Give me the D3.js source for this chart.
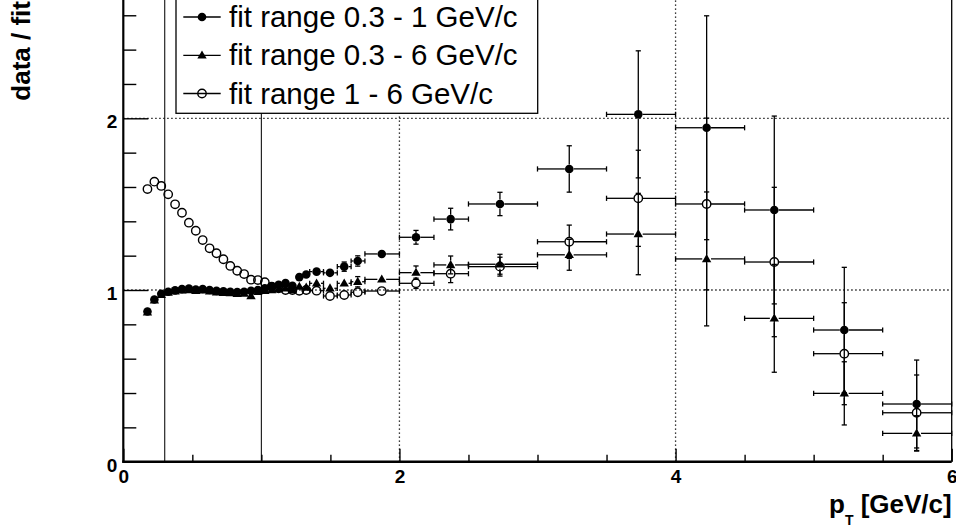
<!DOCTYPE html>
<html>
<head>
<meta charset="utf-8">
<script src="https://cdn.jsdelivr.net/npm/d3@7"></script>
<style>
  body { margin: 0; background: #fff; }
  svg { display: block; }
  text { font-family: "Liberation Sans", Arial, Helvetica, sans-serif; }
</style>
</head>
<body>
<div id="chart"></div>
<script>
// pT bins (GeV/c) and mean pT in each bin
var binEdges = [0.15, 0.2, 0.25, 0.3, 0.35, 0.4, 0.45, 0.5, 0.55, 0.6, 0.65, 0.7, 0.75, 0.8, 0.85, 0.9, 0.95, 1.0,
                1.05, 1.1, 1.15, 1.2, 1.25, 1.3, 1.35, 1.45, 1.55, 1.65, 1.75, 2.0, 2.25, 2.5, 3.0, 3.5, 4.0, 4.5, 5.0, 5.5, 6.0];
var ptMean = [0.175, 0.225, 0.275, 0.325, 0.375, 0.425, 0.475, 0.525, 0.575, 0.625, 0.675, 0.725, 0.775, 0.825, 0.875, 0.925, 0.975,
              1.025, 1.075, 1.125, 1.175, 1.225, 1.275, 1.325, 1.4, 1.497, 1.6, 1.698, 1.872, 2.12, 2.371, 2.728, 3.23, 3.73, 4.225, 4.715, 5.222, 5.746];

// fit range 0.3 - 1 GeV/c
var ratio1 = [0.875, 0.945, 0.978, 0.99, 0.998, 1.005, 1.008, 1.003, 1.006, 1.0, 0.995, 0.992, 0.99, 0.988, 0.99, 0.995, 1.0,
              1.01, 1.02, 1.03, 1.04, 1.025, 1.075, 1.09, 1.107, 1.10, 1.136, 1.169, 1.21, 1.307, 1.413, 1.501, 1.705, 2.023, 1.945, 1.466, 0.767, 0.336];
var err1 = [0.006, 0.005, 0.005, 0.005, 0.005, 0.005, 0.005, 0.005, 0.006, 0.006, 0.006, 0.007, 0.007, 0.008, 0.008, 0.009, 0.01,
            0.01, 0.011, 0.012, 0.013, 0.014, 0.015, 0.016, 0.02, 0.022, 0.027, 0.03, 0.025, 0.04, 0.063, 0.068, 0.135, 0.37, 0.652, 0.547, 0.365, 0.256];

// fit range 0.3 - 6 GeV/c
var ratio2 = [0.87, 0.94, 0.972, 0.985, 0.992, 0.998, 1.0, 0.996, 0.998, 0.992, 0.987, 0.984, 0.982, 0.978, 0.98, 0.965, 0.99,
              0.995, 1.0, 1.005, 1.01, 1.0, 1.02, 1.015, 1.039, 1.01, 1.039, 1.048, 1.062, 1.101, 1.146, 1.15, 1.205, 1.326, 1.181, 0.835, 0.398, 0.165];
var err2 = [0.006, 0.005, 0.005, 0.005, 0.005, 0.005, 0.005, 0.005, 0.006, 0.006, 0.006, 0.007, 0.007, 0.008, 0.008, 0.009, 0.01,
            0.01, 0.011, 0.012, 0.013, 0.014, 0.015, 0.016, 0.02, 0.02, 0.025, 0.03, 0.025, 0.039, 0.052, 0.058, 0.09, 0.237, 0.39, 0.314, 0.184, 0.103];

// fit range 1 - 6 GeV/c
var ratio3 = [1.588, 1.631, 1.606, 1.557, 1.499, 1.45, 1.392, 1.345, 1.291, 1.243, 1.214, 1.179, 1.14, 1.112, 1.093, 1.06, 1.058,
              1.045, 1.02, 1.01, 1.0, 1.0, 0.995, 1.0, 0.996, 0.965, 0.971, 0.987, 0.994, 1.039, 1.095, 1.136, 1.281, 1.534, 1.501, 1.163, 0.629, 0.285];
var err3 = [0.01, 0.008, 0.008, 0.007, 0.007, 0.007, 0.007, 0.007, 0.007, 0.007, 0.007, 0.007, 0.008, 0.008, 0.008, 0.009, 0.01,
            0.01, 0.01, 0.011, 0.012, 0.013, 0.014, 0.015, 0.015, 0.016, 0.018, 0.02, 0.02, 0.03, 0.052, 0.055, 0.097, 0.28, 0.5, 0.435, 0.297, 0.22];

var legendLabels = ["fit range 0.3 - 1 GeV/c", "fit range 0.3 - 6 GeV/c", "fit range 1 - 6 GeV/c"];
var markerTypes = ["filled", "triangle", "open"];

var xMajor = [0, 2, 4, 6];
var xMinor = [0.5, 1, 1.5, 2.5, 3, 3.5, 4.5, 5, 5.5];
var yMajor = [0, 1, 2];
var yMinor = [0.2, 0.4, 0.6, 0.8, 1.2, 1.4, 1.6, 1.8, 2.2, 2.4, 2.6];
var fitLimits = [0.3, 1.0];

var width = 956, height = 532;

var svg = d3.select("#chart").append("svg")
    .attr("width", width)
    .attr("height", height);

var x = d3.scaleLinear().domain([0, 6]).range([123.3, 951.7]);
var y = d3.scaleLinear().domain([0, 2]).range([461.7, 118.3]);
var yTop = y(2.8);

// dotted grid
var grid = svg.append("g")
    .attr("stroke", "#000")
    .attr("stroke-width", 1.3)
    .attr("stroke-dasharray", "1.3,2.7");
grid.selectAll(".gx").data([2, 4]).join("line")
    .attr("x1", d => x(d)).attr("x2", d => x(d))
    .attr("y1", y(0)).attr("y2", yTop);
grid.selectAll(".gy").data([1, 2]).join("line")
    .attr("x1", x(0)).attr("x2", x(6))
    .attr("y1", d => y(d)).attr("y2", d => y(d));

// fit range limits
svg.append("g").selectAll("line")
    .data(fitLimits)
    .join("line")
    .attr("x1", d => x(d)).attr("x2", d => x(d))
    .attr("y1", y(0)).attr("y2", yTop)
    .attr("stroke", "#111")
    .attr("stroke-width", 1.1);

// points
function makePoints(vals, errs) {
  return vals.map((v, i) => ({x: ptMean[i], xl: binEdges[i], xh: binEdges[i + 1], y: v, e: errs[i]}));
}
var series = [makePoints(ratio1, err1), makePoints(ratio2, err2), makePoints(ratio3, err3)];

var gap = 4.4, cap = 2.6;

function drawErrors(g, pts) {
  pts.forEach(function(p) {
    var cx = x(p.x), cy = y(p.y),
        xl = x(p.xl), xh = x(p.xh),
        yl = y(p.y - p.e), yh = y(p.y + p.e);
    var segs = [];
    if (cx - xl > gap) { segs.push([xl, cy, cx - gap, cy]); segs.push([xl, cy - cap, xl, cy + cap]); }
    if (xh - cx > gap) { segs.push([cx + gap, cy, xh, cy]); segs.push([xh, cy - cap, xh, cy + cap]); }
    if (yl - cy > gap) { segs.push([cx, cy + gap, cx, yl]); segs.push([cx - cap, yl, cx + cap, yl]); }
    if (cy - yh > gap) { segs.push([cx, yh, cx, cy - gap]); segs.push([cx - cap, yh, cx + cap, yh]); }
    g.selectAll(null).data(segs).enter().append("line")
      .attr("x1", d => d[0]).attr("y1", d => d[1])
      .attr("x2", d => d[2]).attr("y2", d => d[3]);
  });
}

function drawMarker(g, type, cx, cy) {
  if (type === "filled") {
    g.append("circle").attr("cx", cx).attr("cy", cy).attr("r", 4.3).attr("fill", "#000");
  } else if (type === "open") {
    g.append("circle").attr("cx", cx).attr("cy", cy).attr("r", 4.2)
      .attr("fill", "none").attr("stroke", "#000").attr("stroke-width", 1.4);
  } else {
    g.append("path")
      .attr("d", d3.symbol(d3.symbolTriangle, 38)())
      .attr("transform", `translate(${cx},${cy + 0.5})`)
      .attr("fill", "#000");
  }
}

series.forEach(function(pts, k) {
  var g = svg.append("g").attr("class", "series" + k);
  var eg = g.append("g").attr("stroke", "#000").attr("stroke-width", 1.3);
  drawErrors(eg, pts);
  pts.forEach(p => drawMarker(g, markerTypes[k], x(p.x), y(p.y)));
});

// axes
function styleAxis(g) {
  g.select(".domain").remove();
  g.selectAll(".tick line").attr("stroke", "#000").attr("stroke-width", 1.4);
}

svg.append("g")
    .attr("transform", `translate(0,${y(0)})`)
    .call(d3.axisBottom(x).tickValues(xMinor).tickSize(-7).tickFormat(""))
    .call(styleAxis);

svg.append("g")
    .attr("transform", `translate(0,${y(0)})`)
    .call(d3.axisBottom(x).tickValues(xMajor).tickSize(-13).tickPadding(8).tickFormat(d3.format("d")))
    .call(styleAxis)
    .call(g => g.selectAll("text").attr("fill", "#000").style("font-size", "19px").style("font-weight", "bold"));

svg.append("g")
    .attr("transform", `translate(${x(0)},0)`)
    .call(d3.axisLeft(y).tickValues(yMinor).tickSize(-13).tickFormat(""))
    .call(styleAxis);

svg.append("g")
    .attr("transform", `translate(${x(0)},0)`)
    .call(d3.axisLeft(y).tickValues(yMajor).tickSize(-25).tickPadding(6).tickFormat(d3.format("d")))
    .call(styleAxis)
    .call(g => g.selectAll("text").attr("fill", "#000").attr("dy", "0.5em")
        .style("font-size", "19px").style("font-weight", "bold"));

// frame
svg.append("line")
    .attr("x1", x(0)).attr("x2", x(0)).attr("y1", y(0) + 1).attr("y2", yTop)
    .attr("stroke", "#000").attr("stroke-width", 2.2);
svg.append("line")
    .attr("x1", x(0) - 1).attr("x2", x(6)).attr("y1", y(0)).attr("y2", y(0))
    .attr("stroke", "#000").attr("stroke-width", 2.4);
svg.append("line")
    .attr("x1", x(6)).attr("x2", x(6)).attr("y1", y(0)).attr("y2", yTop)
    .attr("stroke", "#000").attr("stroke-width", 1.3);

// axis titles
var xt = svg.append("text")
    .attr("x", x(6))
    .attr("y", 513)
    .attr("text-anchor", "end")
    .style("font-size", "26px")
    .style("font-weight", "bold");
xt.append("tspan").text("p");
xt.append("tspan").attr("dy", 12).style("font-size", "14px").text("T");
xt.append("tspan").attr("dy", -12).text(" [GeV/c]");

svg.append("text")
    .attr("transform", "translate(30,1) rotate(-90)")
    .attr("text-anchor", "end")
    .style("font-size", "26px")
    .style("font-weight", "bold")
    .text("data / fit");

// legend
var legend = svg.append("g");
legend.append("rect")
    .attr("x", 176).attr("y", -4)
    .attr("width", 361.7).attr("height", 117.3)
    .attr("fill", "#fff")
    .attr("stroke", "#000")
    .attr("stroke-width", 1.3);

var rowY = [17, 55.3, 93.5];
legendLabels.forEach(function(lab, i) {
  var ly = rowY[i];
  legend.append("line")
    .attr("x1", 183.3).attr("x2", 220.7)
    .attr("y1", ly).attr("y2", ly)
    .attr("stroke", "#000").attr("stroke-width", 1.3);
  drawMarker(legend, markerTypes[i], 202, ly);
  legend.append("text")
    .attr("x", 229)
    .attr("y", ly + 10)
    .style("font-size", "29.5px")
    .text(lab);
});
</script>
</body>
</html>
